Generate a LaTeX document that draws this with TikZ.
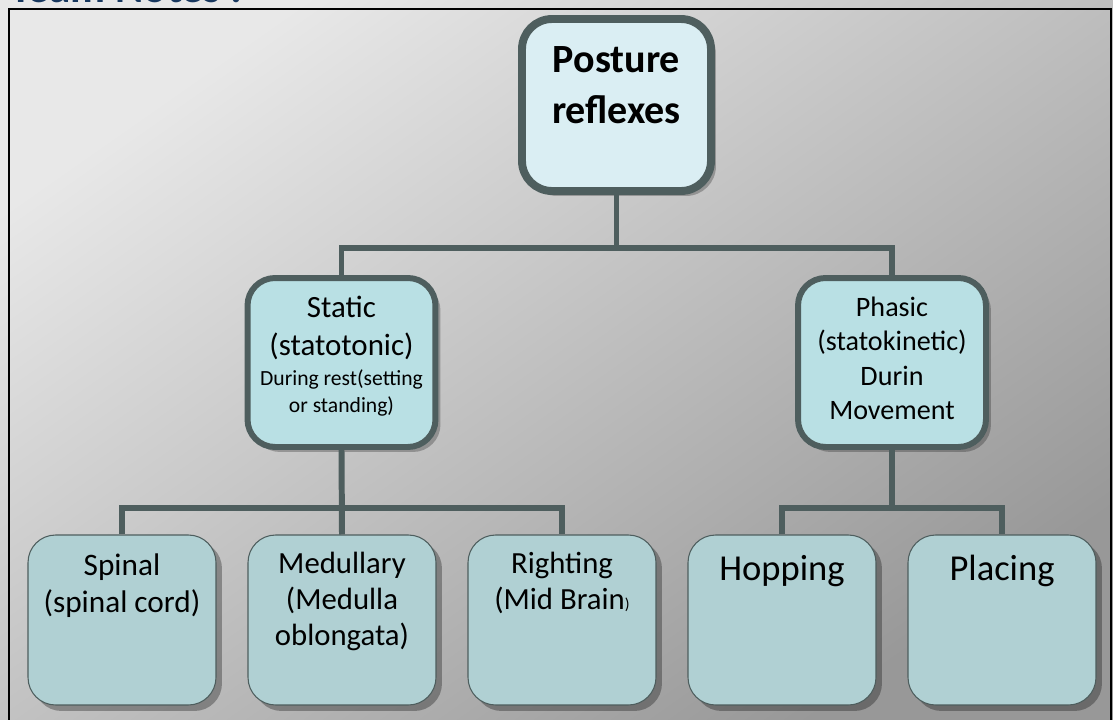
\documentclass[tikz,border=0pt]{standalone}
\usepackage{fontspec}
\setmainfont{Carlito}
\usepackage{tikz}
\usetikzlibrary{shapes, positioning, calc, shadows}

\definecolor{bgtop}{RGB}{232,232,232}
\definecolor{bgbot}{RGB}{152,152,152}
\definecolor{linegray}{RGB}{78,94,94}
\definecolor{topfill}{RGB}{218,238,243}
\definecolor{midfill}{RGB}{185,224,228}
\definecolor{lowfill}{RGB}{176,208,211}
\definecolor{notesblue}{RGB}{23,55,94}

\begin{document}
\begin{tikzpicture}[x=0.02cm, y=-0.02cm,
  rootbox/.style={draw=linegray, line width=4.5pt, fill=topfill, rounded corners=0.6cm,
    minimum width=3.78cm, minimum height=3.44cm,
    drop shadow={shadow xshift=0.1cm, shadow yshift=-0.1cm, fill=black, opacity=0.25}},
  midbox/.style={draw=linegray, line width=3.4pt, fill=midfill, rounded corners=0.55cm,
    minimum width=3.76cm, minimum height=3.38cm,
    drop shadow={shadow xshift=0.1cm, shadow yshift=-0.1cm, fill=black, opacity=0.25}},
  lowbox/.style={draw=linegray, line width=0.6pt, fill=lowfill, rounded corners=0.55cm,
    minimum width=3.76cm, minimum height=3.4cm,
    drop shadow={shadow xshift=0.12cm, shadow yshift=-0.12cm, fill=black, opacity=0.3}},
  boxtext/.style={anchor=north, align=center, inner sep=0pt},
  conn/.style={draw=linegray, line width=3.4pt}
]
  % Slide background
  \useasboundingbox (0,0) rectangle (1113,720);
  \clip (0,0) rectangle (1113,720);
  \shade[top color=bgtop, bottom color=bgbot, shading angle=35] (0,0) rectangle (1113,720);
  \node[anchor=base west, inner sep=0pt, text=notesblue,
    font=\fontsize{24.5}{29}\selectfont\bfseries] (notes) at (10,3) {Team Notes :};
  \draw[line width=1.1pt] (9,9) rectangle (1111,740);

  % Root
  \node[rootbox] (post) at (616.5,105) {};
  \node[boxtext, font=\fontsize{22.8}{29}\selectfont\bfseries] (post-txt) at (616.5,46) {Posture\\reflexes};

  % Static and phasic
  \node[midbox] (static) at (341.5,362.5) {};
  \node[boxtext, font=\fontsize{17.6}{21.6}\selectfont] (static-txt) at (341.5,296) {Static\\(statotonic)};
  \node[boxtext, font=\fontsize{12.3}{15.4}\selectfont] (static-sub) at (341.5,369) {During rest(setting\\or standing)};

  \node[midbox] (phasic) at (892,362.5) {};
  \node[boxtext, font=\fontsize{16}{19.4}\selectfont] (phasic-txt) at (892,297) {Phasic\\(statokinetic)\\Durin\\Movement};

  % Reflex levels
  \node[lowbox] (spinal) at (122,620) {};
  \node[lowbox] (medul) at (342,620) {};
  \node[lowbox] (right) at (562,620) {};
  \node[lowbox] (hop) at (782,620) {};
  \node[lowbox] (place) at (1002,620) {};

  \node[boxtext, font=\fontsize{17.8}{21.2}\selectfont] (spinal-txt) at (122,553) {Spinal\\(spinal cord)};
  \node[boxtext, font=\fontsize{17.5}{20.4}\selectfont] (medul-txt) at (342,552) {Medullary\\(Medulla\\oblongata)};
  \node[boxtext, font=\fontsize{17.5}{20.4}\selectfont] (right-txt) at (562,552) {Righting\\(Mid Brain{\small)}};
  \node[boxtext, font=\fontsize{20.8}{24}\selectfont] (hop-txt) at (782,555) {Hopping};
  \node[boxtext, font=\fontsize{20.8}{24}\selectfont] (place-txt) at (1002,555) {Placing};

  % Connectors
  \coordinate (j1) at (616.5,248);
  \coordinate (j2) at (341.5,508);
  \coordinate (j3) at (892,508);
  \draw[conn] (post.south) -- (j1);
  \draw[conn] (static.north) |- (j1) -| (phasic.north);
  \draw[conn] (static.south) -- (medul.north);
  \draw[conn] (spinal.north) |- (j2) -| (right.north);
  \draw[conn] (phasic.south) -- (j3);
  \draw[conn] (hop.north) |- (j3) -| (place.north);

\end{tikzpicture}
\end{document}
